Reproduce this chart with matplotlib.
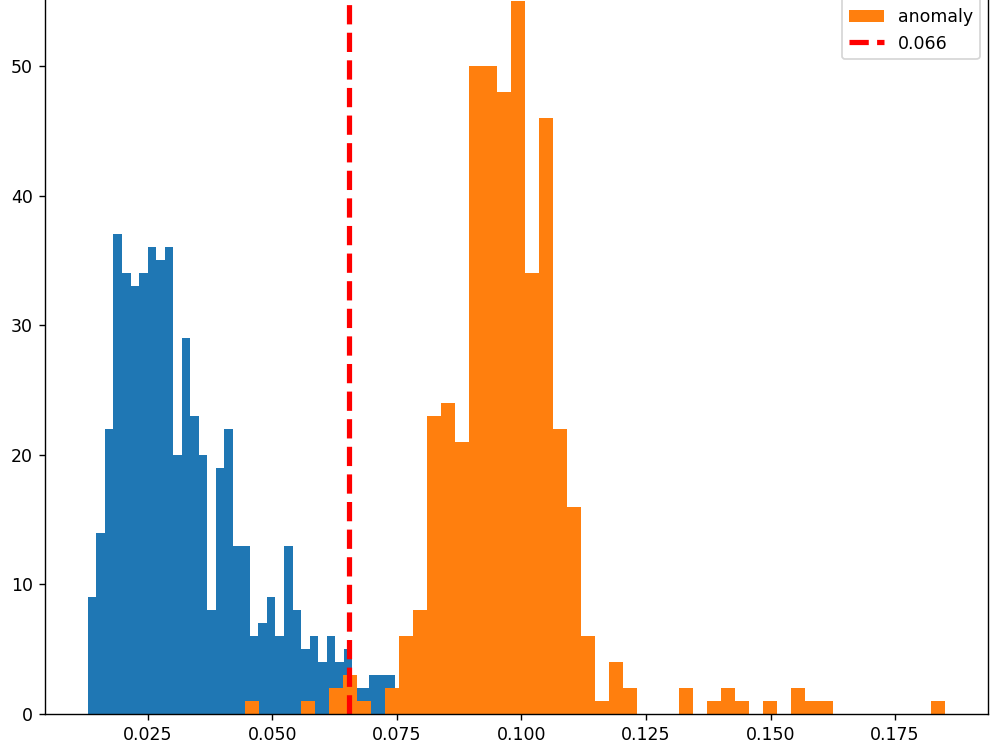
import numpy as np
import matplotlib
matplotlib.use("Agg")
import matplotlib.pyplot as plt

# histogram counts
normal_range = (0.0130, 0.0746)
normal_counts = [9, 14, 22, 37, 34, 33, 34, 36, 35, 36, 20, 29, 23, 20, 8, 19, 22, 13,
                 13, 6, 7, 9, 6, 13, 8, 5, 6, 4, 6, 4, 5, 2, 2, 3, 3, 3]

anomaly_range = (0.0446, 0.1851)
anomaly_counts = [1, 0, 0, 0, 1, 0, 2, 3, 1, 0, 2, 6, 8, 23, 24, 21, 50, 50, 48, 55,
                  34, 46, 22, 16, 6, 1, 4, 2, 0, 0, 0, 2, 0, 1, 2, 1, 0, 1, 0, 2,
                  1, 1, 0, 0, 0, 0, 0, 0, 0, 1]

threshold = 0.0655
threshold_label = "0.066"


def edges(rng, counts):
    return np.linspace(rng[0], rng[1], len(counts) + 1)


fig = plt.figure(figsize=(8, 5.992), dpi=125)
# axes run past the top edge, like the cropped reference
ax = fig.add_axes([0.045, 0.0467, 0.9433, 0.9993])

e_norm = edges(normal_range, normal_counts)
e_anom = edges(anomaly_range, anomaly_counts)
ax.hist(e_norm[:-1], bins=e_norm, weights=normal_counts, label="normal")
ax.hist(e_anom[:-1], bins=e_anom, weights=anomaly_counts, label="anomaly")
ax.axvline(threshold, color="red", linestyle="--", linewidth=3, label=threshold_label)

ax.legend(loc="upper right")

fig.savefig("out.png", dpi=125)
